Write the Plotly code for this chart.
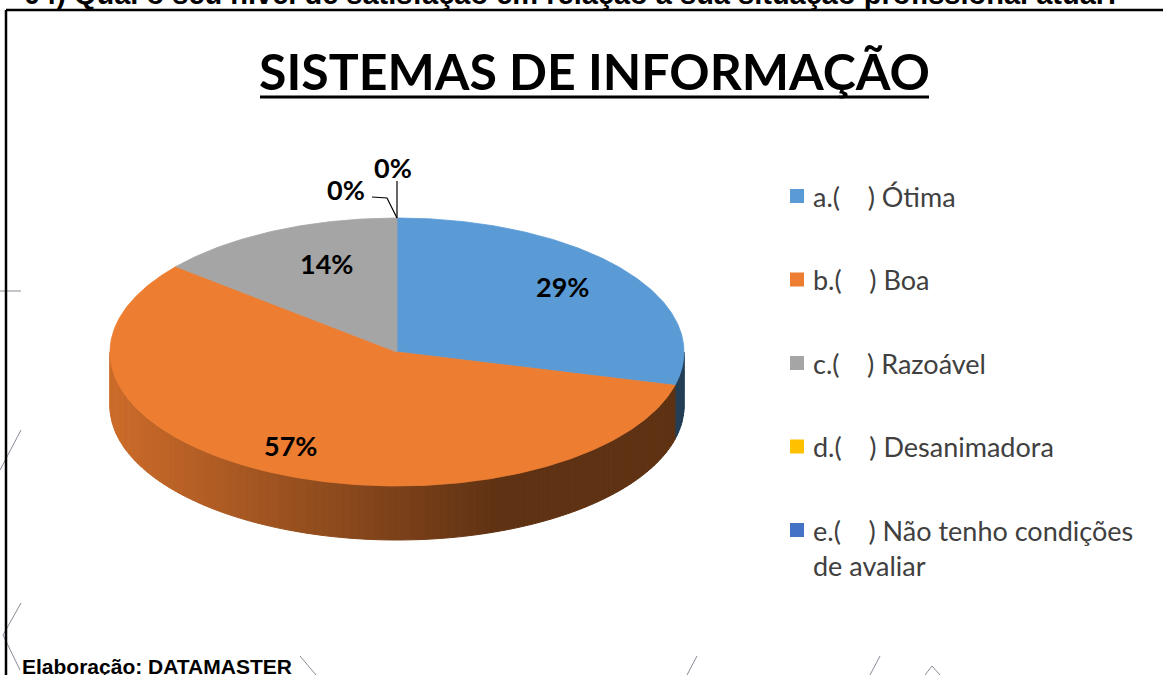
import math
import textwrap
import plotly.graph_objects as go

# ---- dados -----------------------------------------------------------------
pergunta = "04) Qual o seu nível de satisfação em relação à sua situação profissional atual?"
titulo = "SISTEMAS DE INFORMAÇÃO"
rodape = "Elaboração: DATAMASTER"

categorias = [
    "a.(    ) Ótima",
    "b.(    ) Boa",
    "c.(    ) Razoável",
    "d.(    ) Desanimadora",
    "e.(    ) Não tenho condições de avaliar",
]
percentuais = [29, 57, 14, 0, 0]
cores = ["#5B9BD5", "#ED7D31", "#A5A5A5", "#FFC000", "#4472C4"]

# ---- geometria da pizza 3D (pixels da página) -------------------------------
W, H = 1163, 675
CX, CY = 397.0, 352.0      # centro da face superior
RX, RY = 287.0, 134.0      # semi-eixos da elipse
DEPTH = 54.0               # espessura da lateral

# posição dos rótulos internos (fração do raio em x e y)
FRAC_ROTULO = [(0.73, 0.80), (0.82, 0.78), (0.58, 0.73), None, None]
# rótulos externos das fatias nulas: caminho da linha guia e centro do texto
GUIA = {
    3: {"linha": [(0, 0), (-10, -20), (-25, -21)], "texto": (-51, -29)},
    4: {"linha": [(0, 0), (0, -37)], "texto": (-4, -51)},
}

FONTE_TEXTO = "Lato"


def ponto(theta, f=1.0, dy=0.0):
    t = math.radians(theta)
    return CX + f * RX * math.sin(t), CY - f * RY * math.cos(t) + dy


def hex_rgb(c):
    c = c.lstrip("#")
    return tuple(int(c[i:i + 2], 16) for i in (0, 2, 4))


def sombra(cor, x):
    """Escurece a lateral da esquerda (clara) para a direita (escura)."""
    t = min(1.0, max(0.0, (x - 115.0) / (500.0 - 115.0)))
    k = 0.86 + (0.40 - 0.86) * t
    r, g, b = hex_rgb(cor)
    return f"rgb({int(r * k)},{int(g * k)},{int(b * k)})"


def py(y):
    """Converte pixel vertical em coordenada de papel."""
    return 1.0 - y / H


fig = go.Figure()

total = float(sum(percentuais))
angulos = []
a = 0.0
for v in percentuais:
    a1 = a + 360.0 * v / total
    angulos.append((a, a1))
    a = a1

# lateral visível (metade da frente: 90°..270°) em faixas finas
PASSO = 1.5
for (a0, a1), cor in zip(angulos, cores):
    lo, hi = max(a0, 90.0), min(a1, 270.0)
    if hi <= lo:
        continue
    n = max(1, int(math.ceil((hi - lo) / PASSO)))
    for i in range(n):
        t0 = lo + (hi - lo) * i / n
        t1 = lo + (hi - lo) * (i + 1) / n
        topo = [ponto(t0 + (t1 - t0) * k / 3) for k in range(4)]
        base = [ponto(t0 + (t1 - t0) * k / 3, dy=DEPTH) for k in range(4)][::-1]
        pts = topo + base + [topo[0]]
        xm = sum(p[0] for p in topo) / len(topo)
        c = sombra(cor, xm)
        fig.add_trace(go.Scatter(
            x=[p[0] for p in pts], y=[p[1] for p in pts],
            mode="lines", fill="toself", fillcolor=c,
            line=dict(color=c, width=1), hoverinfo="skip", showlegend=False,
        ))

# face superior
for (a0, a1), cor in zip(angulos, cores):
    if a1 - a0 <= 0:
        continue
    n = max(2, int((a1 - a0) * 2))
    arco = [ponto(a0 + (a1 - a0) * k / n) for k in range(n + 1)]
    pts = [(CX, CY)] + arco + [(CX, CY)]
    fig.add_trace(go.Scatter(
        x=[p[0] for p in pts], y=[p[1] for p in pts],
        mode="lines", fill="toself", fillcolor=cor,
        line=dict(color=cor, width=0.8), hoverinfo="skip", showlegend=False,
    ))

# rótulos de percentual
for i, ((a0, a1), v) in enumerate(zip(angulos, percentuais)):
    txt = f"<b>{round(100 * v / total)}%</b>"
    if FRAC_ROTULO[i] is not None and v > 0:
        m = math.radians((a0 + a1) / 2)
        fx, fy = FRAC_ROTULO[i]
        x = CX + fx * RX * math.sin(m)
        y = CY - fy * RY * math.cos(m)
        fig.add_annotation(x=x, y=y, text=txt, showarrow=False,
                           font=dict(family=FONTE_TEXTO, size=27, color="#000000"))
    elif i in GUIA:
        ax, ay = ponto(a0)
        g = GUIA[i]
        fig.add_trace(go.Scatter(
            x=[ax + dx for dx, _ in g["linha"]], y=[ay + dy for _, dy in g["linha"]],
            mode="lines", line=dict(color="#000000", width=1.2),
            hoverinfo="skip", showlegend=False,
        ))
        fig.add_annotation(x=ax + g["texto"][0], y=ay + g["texto"][1], text=txt,
                           showarrow=False,
                           font=dict(family=FONTE_TEXTO, size=27, color="#000000"))

# legenda
LEG_X, LEG_Y0, LEG_DY = 797, 196, 83.5
for i, (cat, cor) in enumerate(zip(categorias, cores)):
    y = LEG_Y0 + i * LEG_DY
    fig.add_trace(go.Scatter(
        x=[LEG_X], y=[y], mode="markers",
        marker=dict(symbol="square", size=14, color=cor, line=dict(width=0)),
        hoverinfo="skip", showlegend=False,
    ))
    linhas = textwrap.wrap(cat, width=28, drop_whitespace=True)
    texto = "<br>".join(l.replace(" ", "\u00a0") for l in linhas)
    fig.add_annotation(x=LEG_X + 14, y=y - 18.5, text=texto, showarrow=False,
                       xanchor="left", yanchor="top", align="left",
                       font=dict(family=FONTE_TEXTO, size=27, color="#404040"))

# título sublinhado
fig.add_annotation(x=594, y=71, text=f"<b>{titulo}</b>", showarrow=False,
                   font=dict(family=FONTE_TEXTO, size=50, color="#000000"))
fig.add_shape(type="line", x0=260, x1=929, y0=97, y1=97,
              line=dict(color="#000000", width=3))

# moldura
fig.add_shape(type="line", x0=6, x1=W, y0=10, y1=10, line=dict(color="#000000", width=2.5))
fig.add_shape(type="line", x0=6, x1=6, y0=10, y1=H, line=dict(color="#000000", width=2.5))

# traços decorativos de fundo
deco = [
    [(0, 291), (21, 291)],
    [(21, 430), (0, 470)],
    [(21, 603), (3, 635), (20, 670)],
    [(300, 656), (316, 675)],
    [(697, 656), (687, 675)],
    [(880, 656), (870, 675)],
    [(925, 675), (932, 666), (940, 675)],
]
for seg in deco:
    fig.add_trace(go.Scatter(
        x=[p[0] for p in seg], y=[p[1] for p in seg], mode="lines",
        line=dict(color="#8a8a98", width=1), hoverinfo="skip", showlegend=False,
    ))

# pergunta (cortada pela borda superior) e fonte
fig.add_annotation(xref="paper", yref="paper", x=22 / W, y=py(12),
                   text=f"<b>{pergunta}</b>", showarrow=False,
                   xanchor="left", yanchor="bottom",
                   font=dict(family="Liberation Sans", size=29, color="#000000"))
fig.add_annotation(xref="paper", yref="paper", x=20 / W, y=py(666),
                   text=f"<b>{rodape}</b>", showarrow=False,
                   xanchor="left", yanchor="middle",
                   font=dict(family="Liberation Sans", size=21, color="#000000"))

fig.update_layout(
    width=W, height=H,
    margin=dict(l=0, r=0, t=0, b=0),
    paper_bgcolor="white", plot_bgcolor="white",
    xaxis=dict(range=[0, W], visible=False, fixedrange=True),
    yaxis=dict(range=[H, 0], visible=False, fixedrange=True),
    showlegend=False,
)

fig.write_html("out.html")
